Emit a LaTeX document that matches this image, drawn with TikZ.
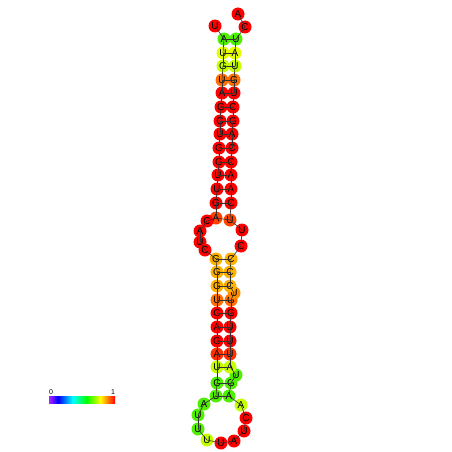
\documentclass[tikz,border=0pt]{standalone}
\usepackage{fontspec}
\setmainfont{Liberation Sans}
\usepackage{tikz}
\definecolor{rnaRed}{HTML}{FF0000}
\definecolor{rnaScarlet}{HTML}{FF3000}
\definecolor{rnaVermil}{HTML}{FF4400}
\definecolor{rnaOrange}{HTML}{FF6E00}
\definecolor{rnaTangerine}{HTML}{FF8C00}
\definecolor{rnaAmber}{HTML}{FFB000}
\definecolor{rnaYellow}{HTML}{E6FF00}
\definecolor{rnaLime}{HTML}{C4FF00}
\definecolor{rnaGreen}{HTML}{50EE00}
\definecolor{rnaViolet}{HTML}{AA22FF}
\definecolor{rnaLine}{HTML}{333333}
\pgfdeclarehorizontalshading{rnascale}{100bp}{color(0bp)=(rnaViolet); color(25bp)=(rnaViolet);
  color(32bp)=(blue); color(43bp)=(cyan); color(53.5bp)=(green); color(64bp)=(yellow);
  color(75bp)=(red); color(100bp)=(red)}
\tikzset{
  nucleo/.style={circle,inner sep=0pt,minimum size=13pt,text=black,
    font=\fontsize{10}{10}\selectfont},
  backbone/.style={draw=rnaLine,line width=0.6pt},
  bond/.style={draw=rnaLine,line width=0.6pt},
  scalelabel/.style={inner sep=0pt,font=\fontsize{7}{7}\selectfont}
}
\begin{document}
\begin{tikzpicture}[x=1pt,y=-1pt]
  \useasboundingbox (0,0) rectangle (452,452);
  % 5' strand of the upper stem
  \node[nucleo, fill=rnaRed] (n1) at (215,26) {U};
  \node[nucleo, fill=rnaGreen] (n2) at (224,39) {A};
  \node[nucleo, fill=rnaYellow] (n3) at (223,53) {U};
  \node[nucleo, fill=rnaLime] (n4) at (223,66) {G};
  \node[nucleo, fill=rnaOrange] (n5) at (222,80) {U};
  \node[nucleo, fill=rnaRed] (n6) at (222,93) {A};
  \node[nucleo, fill=rnaRed] (n7) at (221,107) {G};
  \node[nucleo, fill=rnaRed] (n8) at (220,121) {C};
  \node[nucleo, fill=rnaRed] (n9) at (220,134) {U};
  \node[nucleo, fill=rnaRed] (n10) at (219,148) {G};
  \node[nucleo, fill=rnaRed] (n11) at (219,162) {G};
  \node[nucleo, fill=rnaRed] (n12) at (218,175) {U};
  \node[nucleo, fill=rnaRed] (n13) at (217,189) {U};
  \node[nucleo, fill=rnaRed] (n14) at (216,203) {G};
  \node[nucleo, fill=rnaVermil] (n15) at (216,218) {A};
  % interior loop, left side
  \node[nucleo, fill=rnaRed] (n16) at (207,221) {C};
  \node[nucleo, fill=rnaRed] (n17) at (200,231) {A};
  \node[nucleo, fill=rnaRed] (n18) at (200,242) {U};
  \node[nucleo, fill=rnaRed] (n19) at (205,250) {C};
  % lower stem, left
  \node[nucleo, fill=rnaAmber] (n20) at (216,259) {G};
  \node[nucleo, fill=rnaAmber] (n21) at (217,272) {G};
  \node[nucleo, fill=rnaAmber] (n22) at (217,286) {G};
  \node[nucleo, fill=rnaOrange] (n23) at (217,300) {U};
  \node[nucleo, fill=rnaRed] (n24) at (217,313) {C};
  \node[nucleo, fill=rnaRed] (n25) at (217,327) {A};
  \node[nucleo, fill=rnaRed] (n26) at (217,341) {G};
  \node[nucleo, fill=rnaScarlet] (n27) at (217,354) {A};
  \node[nucleo, fill=rnaLime] (n28) at (217,367) {U};
  \node[nucleo, fill=rnaGreen] (n29) at (217,383) {C};
  \node[nucleo, fill=rnaGreen] (n30) at (216,396) {U};
  % hairpin loop
  \node[nucleo, fill=rnaGreen] (n31) at (204,404) {A};
  \node[nucleo, fill=rnaGreen] (n32) at (198,415) {U};
  \node[nucleo, fill=rnaGreen] (n33) at (198,429) {U};
  \node[nucleo, fill=rnaLime] (n34) at (207,440) {U};
  \node[nucleo, fill=rnaRed] (n35) at (221,443) {U};
  \node[nucleo, fill=rnaRed] (n36) at (234,441) {A};
  \node[nucleo, fill=rnaRed] (n37) at (244,431) {U};
  \node[nucleo, fill=rnaRed] (n38) at (246,418) {C};
  \node[nucleo, fill=rnaLime] (n39) at (241,405) {A};
  % lower stem, right
  \node[nucleo, fill=rnaGreen] (n40) at (229,396) {A};
  \node[nucleo, fill=rnaGreen] (n41) at (231,383) {G};
  \node[nucleo, fill=rnaGreen] (n42) at (236,375) {U};
  \node[nucleo, fill=rnaLime] (n43) at (230,367) {A};
  \node[nucleo, fill=rnaScarlet] (n44) at (230,354) {U};
  \node[nucleo, fill=rnaRed] (n45) at (230,341) {U};
  \node[nucleo, fill=rnaRed] (n46) at (230,327) {U};
  \node[nucleo, fill=rnaRed] (n47) at (231,313) {G};
  \node[nucleo, fill=rnaOrange] (n48) at (231,300) {G};
  \node[nucleo, fill=rnaTangerine] (n49) at (234,293) {U};
  \node[nucleo, fill=rnaAmber] (n50) at (230,286) {C};
  \node[nucleo, fill=rnaAmber] (n51) at (230,272) {C};
  \node[nucleo, fill=rnaAmber] (n52) at (231,259) {C};
  % interior loop, right side
  \node[nucleo, fill=rnaRed] (n53) at (241,246) {C};
  \node[nucleo, fill=rnaRed] (n54) at (242,230) {U};
  \node[nucleo, fill=rnaVermil] (n55) at (230,220) {U};
  % 3' strand of the upper stem
  \node[nucleo, fill=rnaRed] (n56) at (231,203) {C};
  \node[nucleo, fill=rnaRed] (n57) at (231,189) {A};
  \node[nucleo, fill=rnaRed] (n58) at (231,175) {A};
  \node[nucleo, fill=rnaRed] (n59) at (231,162) {C};
  \node[nucleo, fill=rnaRed] (n60) at (232,148) {C};
  \node[nucleo, fill=rnaRed] (n61) at (232,134) {A};
  \node[nucleo, fill=rnaRed] (n62) at (233,121) {G};
  \node[nucleo, fill=rnaRed] (n63) at (233,107) {C};
  \node[nucleo, fill=rnaRed] (n64) at (234,93) {U};
  \node[nucleo, fill=rnaOrange] (n65) at (234,80) {G};
  \node[nucleo, fill=rnaLime] (n66) at (235,66) {U};
  \node[nucleo, fill=rnaYellow] (n67) at (235,53) {A};
  \node[nucleo, fill=rnaGreen] (n68) at (236,39) {U};
  \node[nucleo, fill=rnaRed] (n69) at (245,27) {C};
  \node[nucleo, fill=rnaRed] (n70) at (238,14) {A};
  % backbone and base pairs
  \foreach \i [evaluate=\i as \j using int(\i+1)] in {1,...,69}
    \draw[backbone] (n\i.center) -- (n\j.center);
  \foreach \i/\j in {2/68,3/67,4/66,5/65,6/64,7/63,8/62,9/61,10/60,11/59,12/58,13/57,14/56,15/55,
      20/52,21/51,22/50,23/48,24/47,25/46,26/45,27/44,28/43,29/41,30/40}
    \draw[bond] (n\i.center) -- (n\j.center);
  % colour scale
  \coordinate (barL) at (49,396);
  \coordinate (barR) at (115,403);
  \shade[shading=rnascale] (barL) rectangle (barR);
  \node[scalelabel] (lo) at (51,392) {0};
  \node[scalelabel] (hi) at (113,392) {1};
\end{tikzpicture}
\end{document}
